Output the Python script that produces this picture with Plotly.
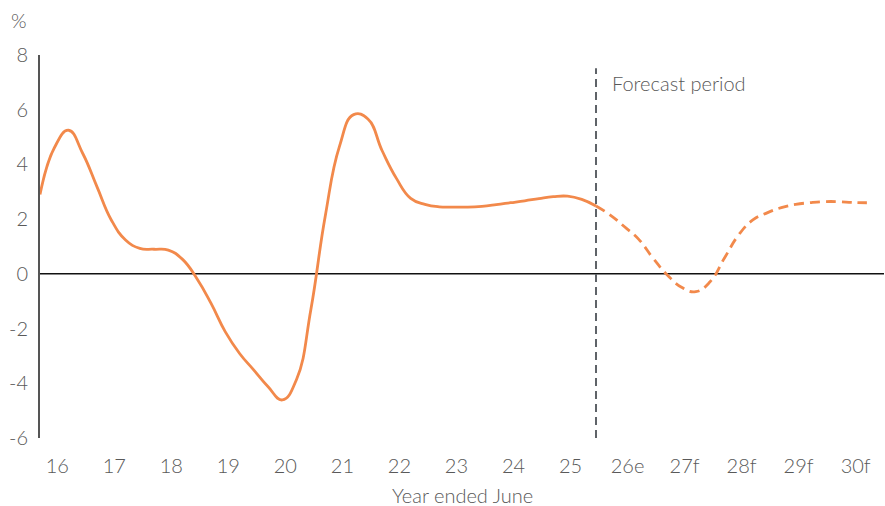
import plotly.graph_objects as go

# Quarterly growth, year ended June (position in fractional years)
quarters = [15.75 + 0.25 * k for k in range(59)]
growth = [
    2.9, 4.6, 5.25, 4.4, 3.18, 1.97, 1.24, 0.93, 0.90, 0.87,   # 15.75 - 18.0
    0.53, -0.17, -1.08, -2.12, -2.91, -3.52, -4.13, -4.61,     # 18.25 - 20.0
    -3.85, -1.3, 2.09, 4.65, 5.82, 5.66, 4.5, 3.49,            # 20.25 - 22.0
    2.76, 2.54, 2.45, 2.44, 2.44, 2.47, 2.53, 2.60,            # 22.25 - 24.0
    2.67, 2.75, 2.82, 2.84, 2.72, 2.48,                        # 24.25 - 25.5
    2.15, 1.72, 1.26, 0.57, -0.04, -0.49, -0.65, -0.29,        # 25.75 - 27.5
    0.57, 1.42, 1.97, 2.23, 2.42, 2.54, 2.60, 2.64,            # 27.75 - 29.5
    2.64, 2.61, 2.60,                                          # 29.75 - 30.25
]

forecast_start = 25.5
tick_vals = list(range(16, 31))
tick_text = ["16", "17", "18", "19", "20", "21", "22", "23", "24", "25",
             "26e", "27f", "28f", "29f", "30f"]
y_ticks = [-6, -4, -2, 0, 2, 4, 6, 8]
y_text = ["-6", "-4", "-2", "0", "2", "4", "6", "8"]

ORANGE = "#F2894B"
GREY = "#595959"
FONT = "Lato"
TXT = dict(family=FONT, size=20, color=GREY, weight=300)

hist_x = [x for x in quarters if x <= forecast_start]
hist_y = growth[:len(hist_x)]
fc_x = [x for x in quarters if x >= forecast_start]
fc_y = growth[len(hist_x) - 1:]

fig = go.Figure()
fig.add_trace(go.Scatter(
    x=hist_x, y=hist_y, mode="lines",
    line=dict(color=ORANGE, width=2.8, shape="spline", smoothing=1.3),
    showlegend=False, hoverinfo="skip",
))
fig.add_trace(go.Scatter(
    x=fc_x, y=fc_y, mode="lines",
    line=dict(color=ORANGE, width=2.8, shape="spline", smoothing=1.3,
              dash="10px,6px"),
    showlegend=False, hoverinfo="skip",
))

# Zero line
fig.add_shape(type="line", xref="paper", yref="y", x0=0, x1=1, y0=0, y1=0,
              line=dict(color="#111111", width=1.5), layer="below")
# Forecast divider
fig.add_shape(type="line", xref="x", yref="y", x0=forecast_start,
              x1=forecast_start, y0=-6, y1=7.52,
              line=dict(color="#5f6368", width=2, dash="8px,5px"))

fig.add_annotation(x=forecast_start, y=6.97, xref="x", yref="y",
                   text="Forecast period", showarrow=False, xanchor="left",
                   yanchor="middle", xshift=14, font=TXT)
fig.add_annotation(x=-0.025, y=1.091, xref="paper", yref="paper", text="%",
                   showarrow=False, xanchor="center", yanchor="middle",
                   font=TXT)
fig.add_annotation(x=0.5, y=-0.149, xref="paper", yref="paper",
                   text="Year ended June", showarrow=False,
                   xanchor="center", yanchor="middle", font=TXT)

fig.update_layout(
    width=885, height=506,
    margin=dict(l=40, r=1, t=55, b=68),
    paper_bgcolor="white", plot_bgcolor="white",
    font=TXT,
    xaxis=dict(
        range=[15.75, 30.55], tickvals=tick_vals, ticktext=tick_text,
        showgrid=False, zeroline=False, showline=False,
        ticks="outside", ticklen=10, tickcolor="rgba(0,0,0,0)",
        ticklabelshift=3, tickfont=TXT,
    ),
    yaxis=dict(
        range=[-6, 8], tickvals=y_ticks, ticktext=y_text,
        showgrid=False, zeroline=False,
        showline=True, linecolor="#555555", linewidth=2,
        ticks="outside", ticklen=6, tickcolor="rgba(0,0,0,0)",
        tickfont=TXT,
    ),
)

fig.write_html("out.html")
